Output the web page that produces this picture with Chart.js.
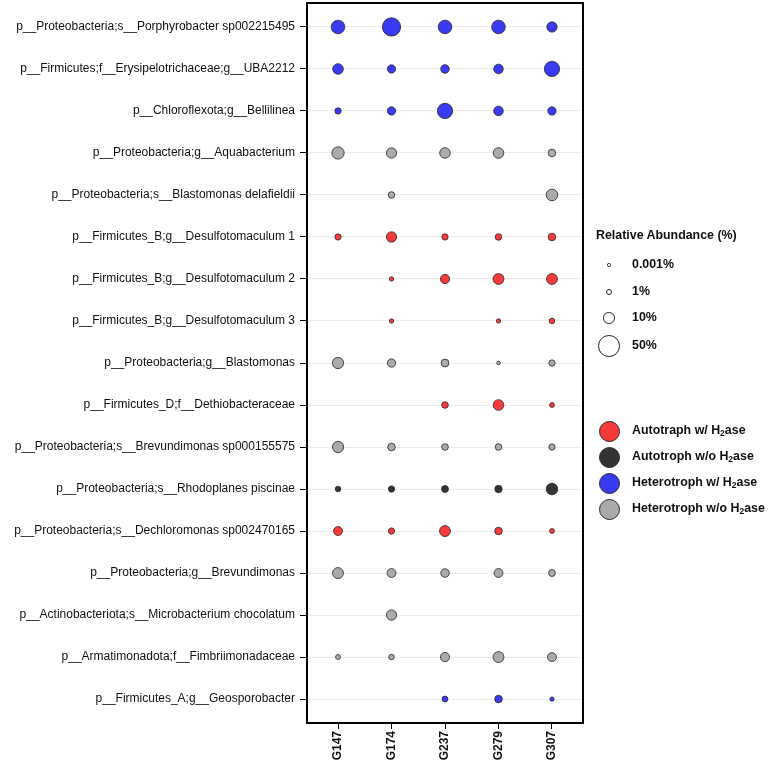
<!DOCTYPE html>
<html>
<head>
<meta charset="utf-8">
<script src="https://cdn.jsdelivr.net/npm/chart.js@4/dist/chart.umd.min.js"></script>
<style>
  html, body { margin: 0; padding: 0; background: #fff; }
  #wrap { position: relative; width: 768px; height: 765px; font-family: "Liberation Sans", Arial, Helvetica, sans-serif; }
  canvas { position: absolute; left: 0; top: 0; }
  .lg { position: absolute; font-weight: bold; font-size: 12.4px; color: #111; white-space: nowrap; }
  .dot { position: absolute; border-radius: 50%; box-sizing: border-box; }
  sub { font-size: 8.5px; vertical-align: -2px; line-height: 0; }
</style>
</head>
<body>
<div id="wrap">
  <canvas id="c" width="768" height="765"></canvas>
  <div id="legend"></div>
</div>
<script>
// ---------- data ----------
const samples = ['G147', 'G174', 'G237', 'G279', 'G307'];
const taxa = [
  'p__Proteobacteria;s__Porphyrobacter sp002215495',
  'p__Firmicutes;f__Erysipelotrichaceae;g__UBA2212',
  'p__Chloroflexota;g__Bellilinea',
  'p__Proteobacteria;g__Aquabacterium',
  'p__Proteobacteria;s__Blastomonas delafieldii',
  'p__Firmicutes_B;g__Desulfotomaculum 1',
  'p__Firmicutes_B;g__Desulfotomaculum 2',
  'p__Firmicutes_B;g__Desulfotomaculum 3',
  'p__Proteobacteria;g__Blastomonas',
  'p__Firmicutes_D;f__Dethiobacteraceae',
  'p__Proteobacteria;s__Brevundimonas sp000155575',
  'p__Proteobacteria;s__Rhodoplanes piscinae',
  'p__Proteobacteria;s__Dechloromonas sp002470165',
  'p__Proteobacteria;g__Brevundimonas',
  'p__Actinobacteriota;s__Microbacterium chocolatum',
  'p__Armatimonadota;f__Fimbriimonadaceae',
  'p__Firmicutes_A;g__Geosporobacter'
];
// group of each taxon (index into groups)
const groups = ['Autotraph w/ H2ase', 'Autotroph w/o H2ase', 'Heterotroph w/ H2ase', 'Heterotroph w/o H2ase'];
const taxonGroup = [2, 2, 2, 3, 3, 0, 0, 0, 3, 0, 3, 1, 0, 3, 3, 3, 2];
// relative abundance (%) per sample, one value per taxon (null = absent)
const abundG147 = [17.9, 9.5, 2.0, 13.9, null, 2.0, null, null, 11.2, null, 11.2, 1.3, 5.9, 10.2, null, 0.8, null];
const abundG174 = [36.4, 4.8, 4.8, 8.8, 2.4, 8.8, 0.43, 0.43, 4.8, null, 3.7, 2.0, 2.0, 5.9, 8.8, 1.3, null];
const abundG237 = [17.9, 5.3, 23.8, 9.5, null, 2.0, 6.6, null, 4.1, 2.4, 2.4, 2.7, 10.2, 5.3, null, 6.6, 1.6];
const abundG279 = [17.9, 7.2, 7.2, 9.5, null, 2.4, 10.2, 0.43, 0.15, 9.5, 2.4, 3.3, 3.7, 5.9, null, 10.2, 3.7];
const abundG307 = [8.8, 23.8, 4.8, 3.7, 12.0, 3.7, 10.2, 1.3, 2.0, 0.8, 2.0, 12.0, 0.8, 2.7, null, 5.9, 0.43];
const sizeLegend = [0.001, 1, 10, 50];
const sizeLegendLabels = ['0.001%', '1%', '10%', '50%'];

// ---------- styles ----------
const groupColors = ['#F53A3A', '#333333', '#3A3AF2', '#AAAAAA'];
const maxAbund = 50;
function radiusOf(v) { return 1.3 + 9.2 * Math.sqrt(v / maxAbund); }

const sampleArrays = [abundG147, abundG174, abundG237, abundG279, abundG307];
const datasets = groups.map((g, gi) => {
  const pts = [];
  taxa.forEach((t, ti) => {
    if (taxonGroup[ti] !== gi) return;
    sampleArrays.forEach((arr, si) => {
      if (arr[ti] != null) pts.push({ x: si, y: ti, v: arr[ti] });
    });
  });
  return {
    label: g,
    data: pts,
    backgroundColor: groupColors[gi],
    borderColor: '#2a2a2a',
    borderWidth: 0.8,
    radius: ctx => radiusOf(ctx.raw.v),
    hoverRadius: ctx => radiusOf(ctx.raw.v)
  };
});

const frame = {
  id: 'frame',
  afterDatasetsDraw(chart) {
    const a = chart.chartArea, c = chart.ctx;
    c.save();
    c.strokeStyle = '#000';
    c.lineWidth = 2;
    c.strokeRect(a.left, a.top, a.right - a.left, a.bottom - a.top);
    c.restore();
  }
};

new Chart(document.getElementById('c'), {
  type: 'bubble',
  data: { datasets },
  options: {
    responsive: false,
    animation: false,
    events: [],
    layout: { autoPadding: false, padding: { top: 3, right: 185, left: 0, bottom: 0 } },
    plugins: { legend: { display: false }, tooltip: { enabled: false } },
    scales: {
      x: {
        type: 'linear', min: -0.58, max: 4.58,
        afterBuildTicks: s => { s.ticks = samples.map((_, i) => ({ value: i })); },
        afterFit: s => { s.height = 42; s.paddingLeft = 0; s.paddingRight = 0; },
        grid: { drawOnChartArea: false, tickLength: 6, tickColor: '#000', tickWidth: 1 },
        border: { display: false },
        ticks: {
          autoSkip: false, maxRotation: 90, minRotation: 90, padding: 2,
          color: '#111',
          font: { family: '"Liberation Sans", Arial, sans-serif', size: 12, weight: 'bold' },
          callback: v => samples[v]
        }
      },
      y: {
        type: 'linear', min: -0.57, max: 16.57, reverse: true,
        afterBuildTicks: s => { s.ticks = taxa.map((_, i) => ({ value: i })); },
        afterFit: s => { s.width = 307; s.paddingTop = 0; s.paddingBottom = 0; },
        grid: { color: '#ececec', lineWidth: 1, tickLength: 7, tickColor: '#000', tickWidth: 1 },
        border: { display: false },
        ticks: {
          autoSkip: false, padding: 5, color: '#111',
          font: { family: '"Liberation Sans", Arial, sans-serif', size: 12 },
          callback: v => taxa[v]
        }
      }
    }
  },
  plugins: [frame]
});

// ---------- legends (HTML text) ----------
const L = document.getElementById('legend');
function add(html, x, y, cls) {
  const d = document.createElement('div');
  d.className = cls || 'lg';
  d.innerHTML = html;
  d.style.left = x + 'px';
  d.style.top = y + 'px';
  L.appendChild(d);
  return d;
}
add('Relative Abundance (%)', 596, 228);
const sizeY = [265, 292, 318, 346];
sizeLegend.forEach((v, i) => {
  const r = radiusOf(v) + 0.4;
  const d = add('', 609 - r, sizeY[i] - r, 'dot');
  d.style.width = d.style.height = (2 * r) + 'px';
  d.style.border = '1px solid #222';
  d.style.background = '#fff';
  add(sizeLegendLabels[i], 632, sizeY[i] - 8);
});
const colY = [431, 457, 483, 509];
groups.forEach((g, i) => {
  const r = 10.5;
  const d = add('', 609 - r, colY[i] - r, 'dot');
  d.style.width = d.style.height = (2 * r) + 'px';
  d.style.border = '1px solid #2a2a2a';
  d.style.background = groupColors[i];
  add(g.replace('H2ase', 'H<sub>2</sub>ase'), 632, colY[i] - 8);
});
</script>
</body>
</html>
